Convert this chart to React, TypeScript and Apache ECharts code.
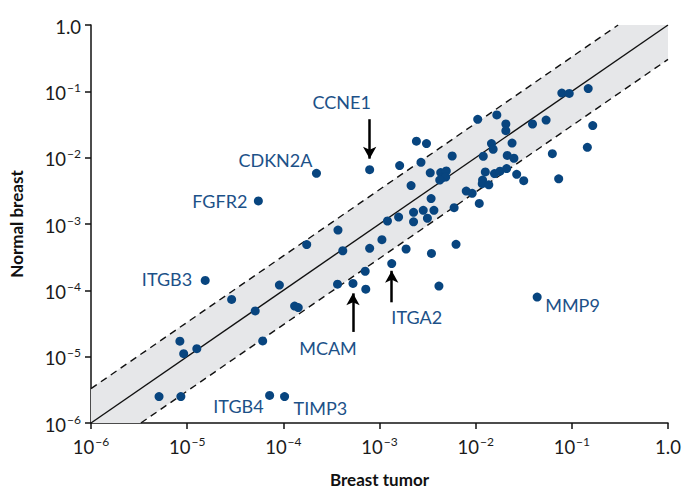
import React, { useEffect, useRef } from "react";
import * as echarts from "echarts";

// Unlabelled genes: expression in breast tumor (x) and normal breast (y)
const tumor = [
  5.1e-6, 8.6e-6, 8.4e-6, 9.2e-6, 1.26e-5, 6.1e-5, 2.9e-5, 5.1e-5, 9.1e-5, 1.31e-4,
  1.43e-4, 1.75e-4, 3.7e-4, 4.15e-4, 3.66e-4, 7.1e-4, 7.2e-4, 7.9e-4, 1.06e-3, 1.21e-3,
  1.58e-3, 1.89e-3, 2.26e-3, 2.26e-3, 2.85e-3, 3.15e-3, 3.47e-3, 3.44e-3, 3.68e-3, 4.15e-3,
  6.25e-3, 5.97e-3, 1.09e-2, 2.13e-3, 1.62e-3, 2.42e-3, 3.08e-3, 2.7e-3, 3.37e-3, 4.33e-3,
  4.95e-3, 4.48e-3, 4.88e-3, 4.23e-3, 5.7e-3, 7.98e-3, 9.2e-3, 1.05e-2, 1.2e-2, 1.26e-2,
  1.18e-2, 1.17e-2, 1.37e-2, 1.46e-2, 1.52e-2, 1.66e-2, 1.57e-2, 1.79e-2, 2.06e-2, 2.06e-2,
  2.1e-2, 2.13e-2, 2.39e-2, 2.5e-2, 2.67e-2, 3.16e-2, 3.9e-2, 5.4e-2, 6.27e-2, 7.3e-2,
  7.87e-2, 9.4e-2, 0.148, 0.145, 0.165,
];
const normal = [
  2.5e-6, 2.5e-6, 1.71e-5, 1.11e-5, 1.32e-5, 1.73e-5, 7.3e-5, 4.9e-5, 1.2e-4, 5.8e-5,
  5.5e-5, 4.9e-4, 8.1e-4, 3.95e-4, 1.24e-4, 1.94e-4, 1.04e-4, 4.3e-4, 5.8e-4, 1.11e-3,
  1.27e-3, 4.2e-4, 1.5e-3, 1.08e-3, 1.61e-3, 1.22e-3, 3.6e-4, 2.42e-3, 1.61e-3, 1.16e-4,
  4.94e-4, 1.76e-3, 2.04e-3, 3.8e-3, 7.6e-3, 1.77e-2, 1.63e-2, 8.5e-3, 5.9e-3, 5.97e-3,
  6.3e-3, 4.98e-3, 5.1e-3, 4.6e-3, 1.06e-2, 3.14e-3, 2.9e-3, 3.78e-2, 1.05e-2, 6.1e-3,
  4.6e-3, 4.05e-3, 3.9e-3, 1.63e-2, 1.34e-2, 4.41e-2, 5.75e-3, 6.25e-3, 3.22e-2, 2.55e-2,
  6.85e-3, 1.08e-2, 1.66e-2, 9.8e-3, 5.6e-3, 4.5e-3, 3.22e-2, 3.69e-2, 1.15e-2, 4.8e-3,
  9.4e-2, 9.3e-2, 0.11, 1.43e-2, 3.05e-2,
];

// Labelled genes
const genes = ["CCNE1", "CDKN2A", "FGFR2", "ITGB3", "MCAM", "ITGA2", "MMP9", "ITGB4", "TIMP3"];
const geneTumor = [7.9e-4, 2.21e-4, 5.5e-5, 1.54e-5, 5.3e-4, 1.34e-3, 4.36e-2, 7.2e-5, 1.03e-4];
const geneNormal = [6.6e-3, 5.8e-3, 2.23e-3, 1.41e-4, 1.27e-4, 2.53e-4, 7.9e-5, 2.6e-6, 2.5e-6];

// Arrows (gene, normal-value start, normal-value tip)
const arrowGenes = ["CCNE1", "MCAM", "ITGA2"];
const arrowFrom = [3.8e-2, 2.36e-5, 6.6e-5];
const arrowTo = [9.66e-3, 9.0e-5, 1.97e-4];

// Axis range and fold-change band
const axisMin = 1e-6;
const axisMax = 1;
const fold = 3.3;

const DOT = "#08457f";
const LABEL = "#1c5188";
const FONT = "Lato, 'Open Sans', sans-serif";

const labelLayout: Record<string, any> = {
  CCNE1: { align: "center", offset: [-28, -68] },
  CDKN2A: { align: "right", offset: [-4, -13] },
  FGFR2: { align: "right", offset: [-11, 0] },
  ITGB3: { align: "right", offset: [-13, -1] },
  MCAM: { align: "center", offset: [-25, 65] },
  ITGA2: { align: "center", offset: [25, 53] },
  MMP9: { align: "left", offset: [8, 8] },
  ITGB4: { align: "right", offset: [-6, 11] },
  TIMP3: { align: "left", offset: [9, 11] },
};

const tickFormatter = (v: number) => {
  const e = Math.round(Math.log10(v));
  if (e === 0) return "{b|1.0}";
  return `{b|10}{s|\u2212${-e}}`;
};

const tickRich = {
  b: { fontSize: 18.5, fontFamily: FONT, color: "#1a1a1a", lineHeight: 22, verticalAlign: "bottom" },
  s: { fontSize: 12, fontFamily: FONT, color: "#1a1a1a", lineHeight: 22, verticalAlign: "top", padding: [1, 0, 0, 1] },
};

export default function App() {
  const ref = useRef<HTMLDivElement>(null);
  useEffect(() => {
    if (!ref.current) return;
    const chart = echarts.init(ref.current, null, { renderer: "svg" });

    const points = tumor.map((t, i) => [t, normal[i]]);
    const labelled = genes.map((g, i) => {
      const l = labelLayout[g];
      return {
        name: g,
        value: [geneTumor[i], geneNormal[i]],
        label: {
          show: true,
          position: "inside",
          align: l.align,
          verticalAlign: "middle",
          offset: l.offset,
          formatter: g,
          color: LABEL,
          fontSize: 18,
          fontFamily: FONT,
        },
      };
    });

    const bandPoly = [
      [axisMin, axisMin * fold],
      [axisMax / fold, axisMax],
      [axisMax, axisMax],
      [axisMax, axisMax / fold],
      [axisMin * fold, axisMin],
      [axisMin, axisMin],
    ];

    const arrows = arrowGenes.map((g, i) => {
      const x = geneTumor[genes.indexOf(g)];
      return [
        { coord: [x, arrowFrom[i]], symbol: "none" },
        { coord: [x, arrowTo[i]], symbol: "arrow", symbolSize: [10, 12] },
      ];
    });

    const axisCommon = {
      type: "log",
      logBase: 10,
      min: axisMin,
      max: axisMax,
      splitNumber: 6,
      axisLine: { show: true, onZero: false, lineStyle: { color: "#111", width: 1.5 } },
      axisTick: { show: true, length: 6, lineStyle: { color: "#111", width: 1.5 } },
      splitLine: { show: false },
      minorTick: { show: false },
      nameLocation: "middle",
      nameTextStyle: { fontFamily: FONT, fontWeight: "bold", fontSize: 17, color: "#111" },
    };

    chart.setOption({
      animation: false,
      backgroundColor: "#fff",
      grid: { left: 88, right: 16, top: 25, bottom: 66, containLabel: false },
      xAxis: {
        ...axisCommon,
        name: "Breast tumor",
        nameGap: 48,
        axisLabel: { formatter: tickFormatter, rich: tickRich, margin: 11 },
      },
      yAxis: {
        ...axisCommon,
        name: "Normal breast",
        nameGap: 66,
        axisLabel: { formatter: tickFormatter, rich: tickRich, margin: 10 },
      },
      series: [
        {
          type: "custom",
          clip: true,
          z: 1,
          silent: true,
          data: [0],
          renderItem: (_p: any, api: any) => ({
            type: "polygon",
            shape: { points: bandPoly.map((p) => api.coord(p)) },
            style: { fill: "#e6e7e9", stroke: "none" },
          }),
        },
        {
          type: "line",
          z: 2,
          symbol: "none",
          data: [[axisMin, axisMin], [axisMax, axisMax]],
          lineStyle: { color: "#111", width: 1.4 },
          markLine: {
            silent: true,
            animation: false,
            label: { show: false },
            lineStyle: { color: "#000", width: 2.5, type: "solid" },
            data: arrows,
          },
        },
        {
          type: "line",
          z: 2,
          symbol: "none",
          data: [[axisMin, axisMin * fold], [axisMax / fold, axisMax]],
          lineStyle: { color: "#111", width: 1.4, type: [7, 5] },
        },
        {
          type: "line",
          z: 2,
          symbol: "none",
          data: [[axisMin * fold, axisMin], [axisMax, axisMax / fold]],
          lineStyle: { color: "#111", width: 1.4, type: [7, 5] },
        },
        {
          type: "scatter",
          z: 3,
          symbolSize: 9,
          itemStyle: { color: DOT, opacity: 1 },
          data: points,
        },
        {
          type: "scatter",
          z: 3,
          symbolSize: 9,
          itemStyle: { color: DOT, opacity: 1 },
          data: labelled,
        },
      ],
    });
    return () => chart.dispose();
  }, []);
  return <div ref={ref} style={{ width: 684, height: 493, position: "absolute", left: 0, top: 0 }} />;
}
